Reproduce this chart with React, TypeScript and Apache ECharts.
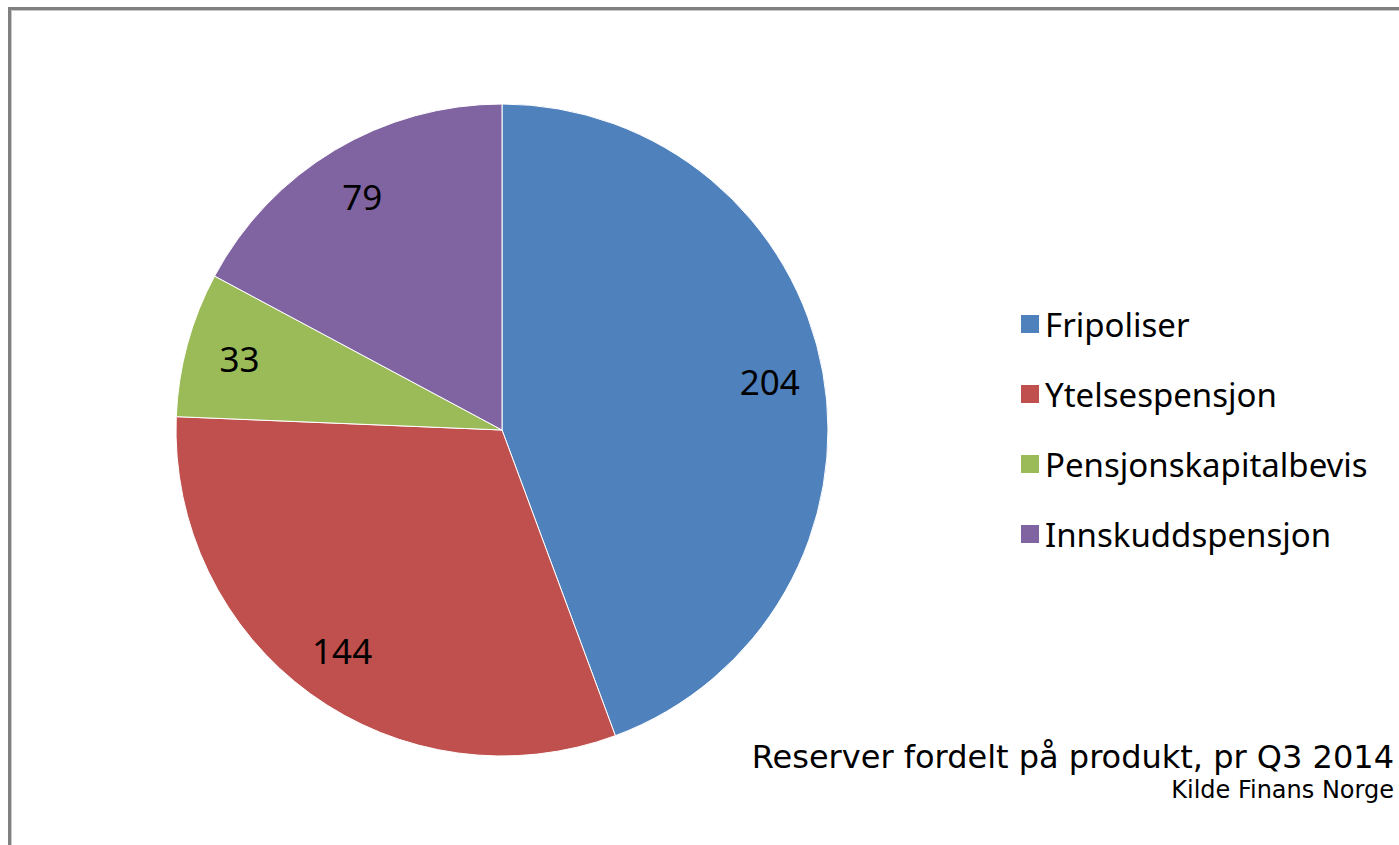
import React, { useEffect, useRef } from "react";
import * as echarts from "echarts";

const categories = ["Fripoliser", "Ytelsespensjon", "Pensjonskapitalbevis", "Innskuddspensjon"];
const values = [204, 144, 33, 79];
const colors = ["#4F81BD", "#C0504D", "#9BBB59", "#8064A2"];
const titleText = "Reserver fordelt på produkt, pr Q3 2014";
const sourceText = "Kilde Finans Norge";

export default function App() {
  const ref = useRef<HTMLDivElement>(null);
  useEffect(() => {
    if (!ref.current) return;
    const chart = echarts.init(ref.current, null, { renderer: "svg" });
    const data = categories.map((name, i) => ({ name, value: values[i] }));
    chart.setOption({
      animation: false,
      backgroundColor: "#ffffff",
      color: colors,
      legend: {
        orient: "vertical",
        left: 1014,
        top: 299,
        icon: "rect",
        itemWidth: 20,
        itemHeight: 20,
        itemGap: 30,
        selectedMode: false,
        data: categories,
        textStyle: {
          fontFamily: "Noto Sans",
          fontSize: 33,
          color: "#000",
          lineHeight: 40,
          padding: [0, 0, 0, 0],
        },
      },
      graphic: [
        {
          type: "rect",
          shape: { x: 9.5, y: 8.5, width: 1500, height: 1000 },
          style: { fill: "none", stroke: "#808080", lineWidth: 3 },
          silent: true,
        },
        {
          type: "rect",
          shape: { x: 11.5, y: 10.5, width: 1500, height: 1000 },
          style: { fill: "none", stroke: "#c8c8c8", lineWidth: 1 },
          silent: true,
        },
        {
          type: "text",
          style: {
            x: 1394,
            y: 757,
            text: titleText,
            textAlign: "right",
            textVerticalAlign: "middle",
            fontFamily: "DejaVu Sans",
            fontSize: 32,
            fill: "#000",
          },
        },
        {
          type: "text",
          style: {
            x: 1394,
            y: 790,
            text: sourceText,
            textAlign: "right",
            textVerticalAlign: "middle",
            fontFamily: "DejaVu Sans",
            fontSize: 24,
            fill: "#000",
          },
        },
      ],
      series: [
        {
          type: "pie",
          center: [502, 430],
          radius: 326,
          startAngle: 90,
          clockwise: true,
          label: { show: false },
          labelLine: { show: false },
          emphasis: { disabled: true },
          silent: true,
          itemStyle: { borderColor: "#ffffff", borderWidth: 1 },
          data,
        },
        {
          type: "pie",
          center: [502, 430],
          radius: [212, 326],
          startAngle: 90,
          clockwise: true,
          silent: true,
          emphasis: { disabled: true },
          itemStyle: { color: "rgba(0,0,0,0)", borderWidth: 0 },
          label: {
            show: true,
            position: "inside",
            formatter: "{c}",
            fontFamily: "Noto Sans",
            fontSize: 35,
            color: "#000",
          },
          labelLine: { show: false },
          data,
        },
      ],
    });
    return () => chart.dispose();
  }, []);
  return (
    <div
      ref={ref}
      style={{ position: "fixed", left: 0, top: 0, width: 1399, height: 845 }}
    />
  );
}
